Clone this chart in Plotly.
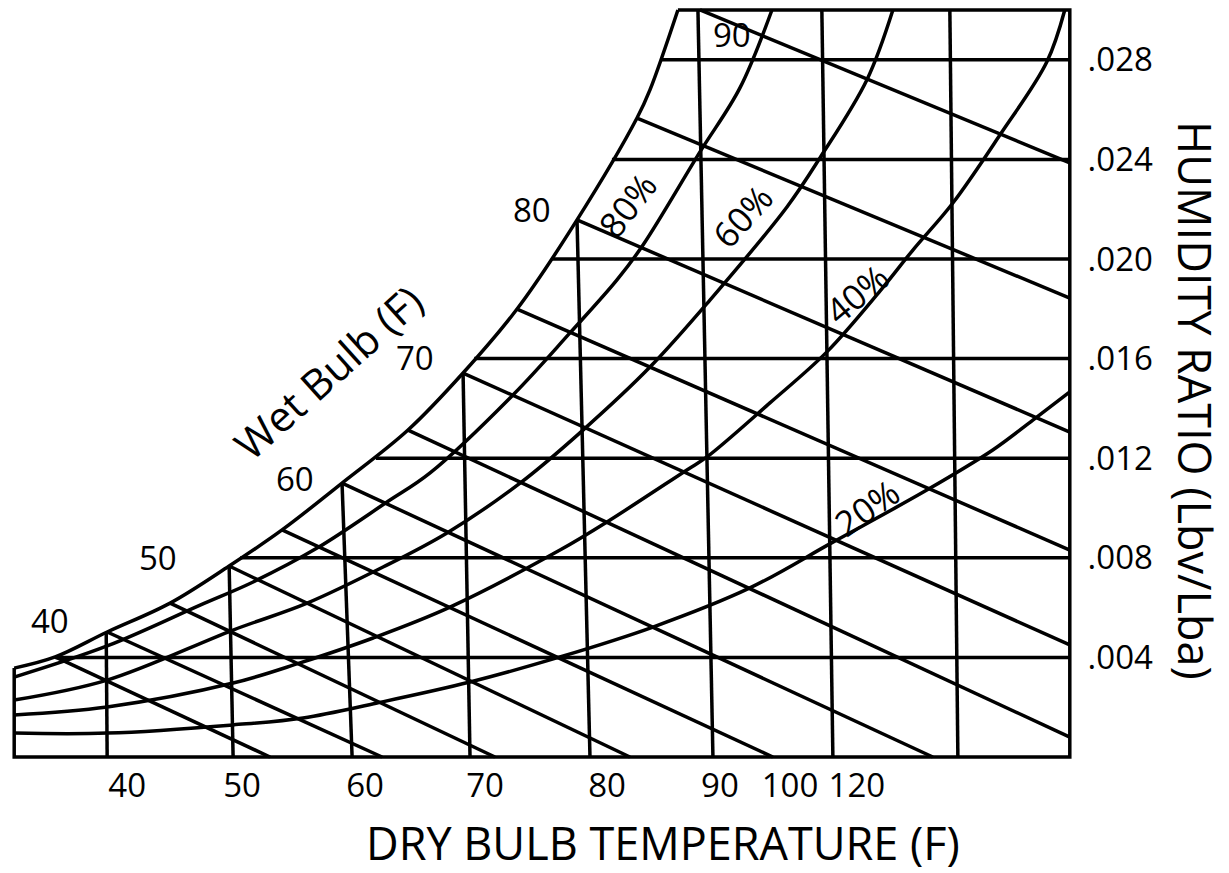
import plotly.graph_objects as go

# chart edges (dry bulb F, humidity ratio lb/lb)
t_left, t_right, w_top = 32.25, 120.25, 0.030

# saturation curve
sat_t = [32.25, 35.67, 40.0, 45.25, 50.17, 54.58, 59.58, 65.08, 69.67, 74.17, 79.17, 84.17, 85.25, 87.58]
sat_w = [0.00357, 0.00402, 0.00502, 0.00618, 0.00767, 0.00912, 0.0110, 0.01313, 0.01542, 0.01799,
         0.02157, 0.02566, 0.02679, 0.0300]

# relative humidity curves
rh80_t = [32.25, 40.0, 47.75, 52.17, 57.5, 63.33, 66.92, 73.83, 78.58, 82.5, 84.67, 89.42, 92.75, 95.42]
rh80_w = [0.00321, 0.00446, 0.0061, 0.00703, 0.00839, 0.01024, 0.01141, 0.01454, 0.01703, 0.01916,
          0.02056, 0.0243, 0.02687, 0.0300]
rh60_t = [32.25, 40.0, 50.5, 56.67, 63.0, 68.33, 74.42, 79.67, 85.25, 90.25, 96.67, 99.42, 103.33, 105.5]
rh60_w = [0.00229, 0.00309, 0.0051, 0.00618, 0.00763, 0.0090, 0.0110, 0.01313, 0.01566, 0.01835,
          0.02209, 0.02406, 0.02719, 0.0300]
rh40_t = [32.25, 40.0, 50.5, 56.08, 62.17, 68.58, 77.75, 81.67, 88.33, 90.0, 95.25, 100.0, 104.42,
          107.17, 110.5, 114.42, 118.33, 119.83]
rh40_w = [0.00169, 0.00201, 0.00297, 0.00378, 0.00478, 0.00602, 0.00831, 0.00944, 0.01153, 0.01205,
          0.01422, 0.01627, 0.01871, 0.02036, 0.02225, 0.02498, 0.02791, 0.0300]
rh20_t = [32.25, 40.0, 50.5, 56.33, 62.5, 70.25, 77.75, 85.5, 93.58, 100.5, 108.33, 113.83, 117.17, 120.25]
rh20_w = [0.00096, 0.00096, 0.00129, 0.00157, 0.00217, 0.00301, 0.00402, 0.00522, 0.00679, 0.00863,
          0.01072, 0.01233, 0.01353, 0.01466]

# wet bulb lines 35..90 F
wb_start_t = [35.67, 40.0, 45.25, 50.17, 54.58, 59.58, 65.08, 69.67, 74.17, 79.17, 84.17, 89.42]
wb_start_w = [0.00402, 0.00502, 0.00618, 0.00767, 0.00912, 0.0110, 0.01313, 0.01542, 0.01799, 0.02157,
              0.02566, 0.0300]
wb_end_t = [53.58, 62.92, 72.33, 83.58, 95.5, 108.83, 120.25, 120.25, 120.25, 120.25, 120.25, 120.25]
wb_end_w = [0.0, 0.0, 0.0, 0.0, 0.0, 0.0, 0.0008, 0.0045, 0.00831, 0.01305, 0.01843, 0.02386]

# dry bulb lines (slightly leaning)
db_bottom_t = [40.0, 50.5, 60.42, 70.25, 80.25, 90.5, 100.5, 110.92]
db_top_t = [39.92, 50.17, 59.58, 69.67, 79.17, 89.25, 99.58, 110.25]
db_top_w = [0.00502, 0.00767, 0.0110, 0.01542, 0.02157, 0.0300, 0.0300, 0.0300]

# humidity ratio lines
hr_w = [0.004, 0.008, 0.012, 0.016, 0.020, 0.024, 0.028]
hr_start_t = [35.67, 51.1, 62.4, 70.6, 77.1, 82.08, 86.2]
hr_text = [".004", ".008", ".012", ".016", ".020", ".024", ".028"]

# bottom labels
x_tick_pos = [41.67, 51.25, 61.5, 71.5, 81.67, 91.08, 96.92, 102.5]
x_tick_text = ["40", "50", "60", "70", "80", "90", "100", "120"]

# wet bulb labels along saturation
wb_label_text = ["40", "50", "60", "70", "80", "90"]
wb_label_t = [35.2, 44.25, 55.67, 65.67, 75.42, 92.08]
wb_label_w = [0.0055, 0.00803, 0.0112, 0.01606, 0.02197, 0.0290]

rh_label_text = ["80%", "60%", "40%", "20%"]
rh_label_t = [83.4, 93.0, 102.5, 103.3]
rh_label_w = [0.02217, 0.02173, 0.01863, 0.01004]
rh_label_angle = [-52, -48, -40, -35]

FONT = "Open Sans, Noto Sans, sans-serif"
LINE = dict(color="black", width=3.5)

fig = go.Figure()


def add_line(xs, ys, shape="linear"):
    fig.add_trace(go.Scatter(x=xs, y=ys, mode="lines", line=dict(LINE, shape=shape),
                             hoverinfo="skip", showlegend=False))


# frame
add_line([t_left, t_left, t_right, t_right, sat_t[-1]], [sat_w[0], 0, 0, w_top, w_top])
add_line(sat_t, sat_w, "spline")

for xs, ys in [(rh80_t, rh80_w), (rh60_t, rh60_w), (rh40_t, rh40_w), (rh20_t, rh20_w)]:
    add_line(xs, ys, "spline")

for i in range(len(wb_start_t)):
    add_line([wb_start_t[i], wb_end_t[i]], [wb_start_w[i], wb_end_w[i]])

for i in range(len(db_bottom_t)):
    add_line([db_bottom_t[i], db_top_t[i]], [0, db_top_w[i]])

for i in range(len(hr_w)):
    add_line([hr_start_t[i], t_right], [hr_w[i], hr_w[i]])

annos = []
for i in range(len(wb_label_text)):
    annos.append(dict(x=wb_label_t[i], y=wb_label_w[i], text=wb_label_text[i], showarrow=False,
                      font=dict(size=33)))
for i in range(len(rh_label_text)):
    annos.append(dict(x=rh_label_t[i], y=rh_label_w[i], text=rh_label_text[i], showarrow=False,
                      textangle=rh_label_angle[i], font=dict(size=35)))
annos.append(dict(x=58.4, y=0.0155, text="Wet Bulb (F)", showarrow=False, textangle=-42,
                  font=dict(size=42)))
annos.append(dict(x=0.6137, y=-0.107, xref="paper", yref="paper", xanchor="center", yanchor="middle",
                  text="DRY BULB TEMPERATURE (F)", showarrow=False, font=dict(size=45)))
annos.append(dict(x=1.1147, y=0.478, xref="paper", yref="paper", xanchor="center", yanchor="middle",
                  text="HUMIDITY RATIO (Lbv/Lba)", showarrow=False, textangle=90, font=dict(size=45)))

fig.update_layout(
    width=1229, height=873,
    margin=dict(l=10, r=155, t=5, b=111),
    paper_bgcolor="white", plot_bgcolor="white",
    font=dict(family=FONT, color="black"),
    annotations=annos,
    xaxis=dict(range=[31.9, 120.6], showgrid=False, zeroline=False, showline=False,
               tickmode="array", tickvals=x_tick_pos, ticktext=x_tick_text,
               ticks="", ticklabelstandoff=1, tickfont=dict(size=33)),
    yaxis=dict(range=[-0.0002, 0.0302], side="right", showgrid=False, zeroline=False,
               showline=False, tickmode="array", tickvals=hr_w, ticktext=hr_text,
               ticks="outside", ticklen=6, tickcolor="white", tickfont=dict(size=33)),
)

fig.write_html("out.html", config={"displayModeBar": False},
               post_script="document.body.style.margin='0';")
